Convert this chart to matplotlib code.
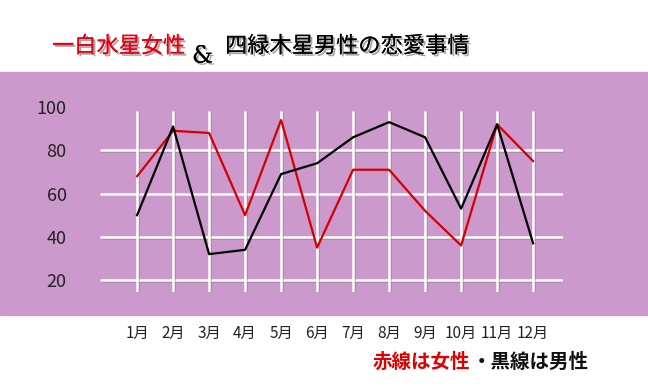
import matplotlib
matplotlib.use("Agg")
import matplotlib.pyplot as plt
import matplotlib.patheffects as pe
from matplotlib.patches import Rectangle

plt.rcParams['font.family'] = ['Noto Sans CJK JP', 'DejaVu Sans']

months = ['1月', '2月', '3月', '4月', '5月', '6月', '7月', '8月', '9月', '10月', '11月', '12月']
female = [68, 89, 88, 50, 94, 35, 71, 71, 52, 36, 92, 75]
male = [50, 91, 32, 34, 69, 74, 86, 93, 86, 53, 92, 37]
yticks = [20, 40, 60, 80, 100]
grid_y = [20, 40, 60, 80]

W, H = 648, 388
purple = '#CC99CC'


def fx(px):
    return px / W


def fy(py):
    return 1 - py / H


fig = plt.figure(figsize=(W / 100, H / 100), dpi=100)
fig.patches.append(Rectangle((0, fy(315)), 1, fy(72) - fy(315),
                             transform=fig.transFigure, color=purple, zorder=-5))

ax = fig.add_axes([fx(100), fy(292), fx(563) - fx(100), fy(107) - fy(292)])
ax.set_zorder(2)
ax.patch.set_visible(False)
for s in ax.spines.values():
    s.set_visible(False)

x = list(range(len(months)))
ax.set_xlim(-1.03, 11.83)
ax.set_ylim(14.5, 100)

grid_fx = [pe.SimpleLineShadow(offset=(0.6, -0.6), shadow_color='#777777', alpha=0.5), pe.Normal()]
ax.hlines(grid_y, -1.03, 11.83, colors='white', lw=1.8, path_effects=grid_fx, zorder=1)
ax.vlines(x, 14.5, 98, colors='white', lw=1.8, path_effects=grid_fx, zorder=1)

ax.plot(x, female, color='#D40000', lw=1.6, zorder=3)
ax.plot(x, male, color='black', lw=1.6, zorder=3)

ax.set_yticks(yticks)
ax.set_yticklabels([str(v) for v in yticks], fontsize=13, color='#222222')
ax.set_xticks(x)
ax.set_xticklabels(months, fontsize=11, color='#222222')
ax.tick_params(axis='y', length=0, pad=24)
ax.tick_params(axis='x', length=0, pad=24)

shadow = [pe.withSimplePatchShadow(offset=(1.5, -1.5), shadow_rgbFace='#666666', alpha=0.6), pe.Normal()]
fig.text(fx(52), fy(46), '一白水星女性', color='#E60012', fontsize=16,
         ha='left', va='center', path_effects=shadow)
fig.text(fx(192), fy(56), '&', color='black', fontsize=17, family='DejaVu Serif',
         ha='left', va='center', path_effects=shadow)
fig.text(fx(225), fy(46), '四緑木星男性の恋愛事情', color='black', fontsize=16,
         ha='left', va='center', path_effects=shadow)

fig.text(fx(373), fy(362), '赤線は女性', color='#E00000', fontsize=14,
         fontweight='bold', ha='left', va='center')
fig.text(fx(472), fy(362), '・黒線は男性', color='#111111', fontsize=14,
         fontweight='bold', ha='left', va='center')

fig.savefig('out.png', dpi=100)
